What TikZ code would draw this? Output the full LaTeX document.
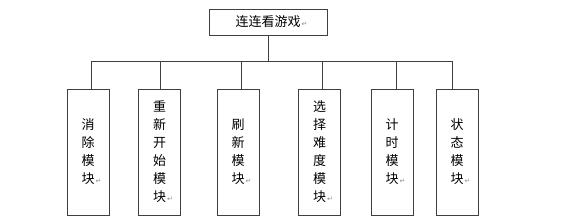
\documentclass[tikz,border=0pt]{standalone}
\usepackage{fontspec}
\newfontfamily\cjk{Noto Sans CJK SC}
\newfontfamily\sym{DejaVu Sans}
\usepackage{xcolor}
\definecolor{lineGray}{gray}{0.25}
\definecolor{markGray}{gray}{0.55}
\newcommand{\pmark}{\rlap{\sym\fontsize{7}{7}\selectfont\color{markGray}\,↵}}
\usetikzlibrary{calc}

\begin{document}
\begin{tikzpicture}[x=1pt, y=-1pt,
    titlebox/.style={draw=lineGray, line width=0.8pt, minimum width=118pt, minimum height=26pt, inner sep=0pt, font=\cjk\fontsize{13}{16}\selectfont},
    modbox/.style={draw=lineGray, line width=0.8pt, minimum width=42pt, minimum height=126pt, inner sep=0pt, align=center, font=\cjk\fontsize{13}{18}\selectfont},
    link/.style={lineGray, line width=0.8pt}]
  \useasboundingbox (0,0) rectangle (565,223);
  % the game
  \node[titlebox] (game) at (268,22) {连连看游戏\pmark};
  \coordinate (k0) at (268,61);
  \draw[link] (game.south) -- (k0);
  % the modules
  \foreach \i/\x/\k/\txt in {%
    1/88/91/{消\\除\\模\\块\pmark},
    2/159.5/160/{重\\新\\开\\始\\模\\块\pmark},
    3/238/241/{刷\\新\\模\\块\pmark},
    4/319.5/322/{选\\择\\难\\度\\模\\块\pmark},
    5/392/396/{计\\时\\模\\块\pmark},
    6/457/452/{状\\态\\模\\块\pmark}} {
    \node[modbox] (mod\i) at (\x,152) {\txt};
    \coordinate (k\i) at (\k,61);
    \draw[link] (k\i) -- (k\i |- mod\i.north);
  }
  \draw[link] (k1) -- (k6);
\end{tikzpicture}
\end{document}
